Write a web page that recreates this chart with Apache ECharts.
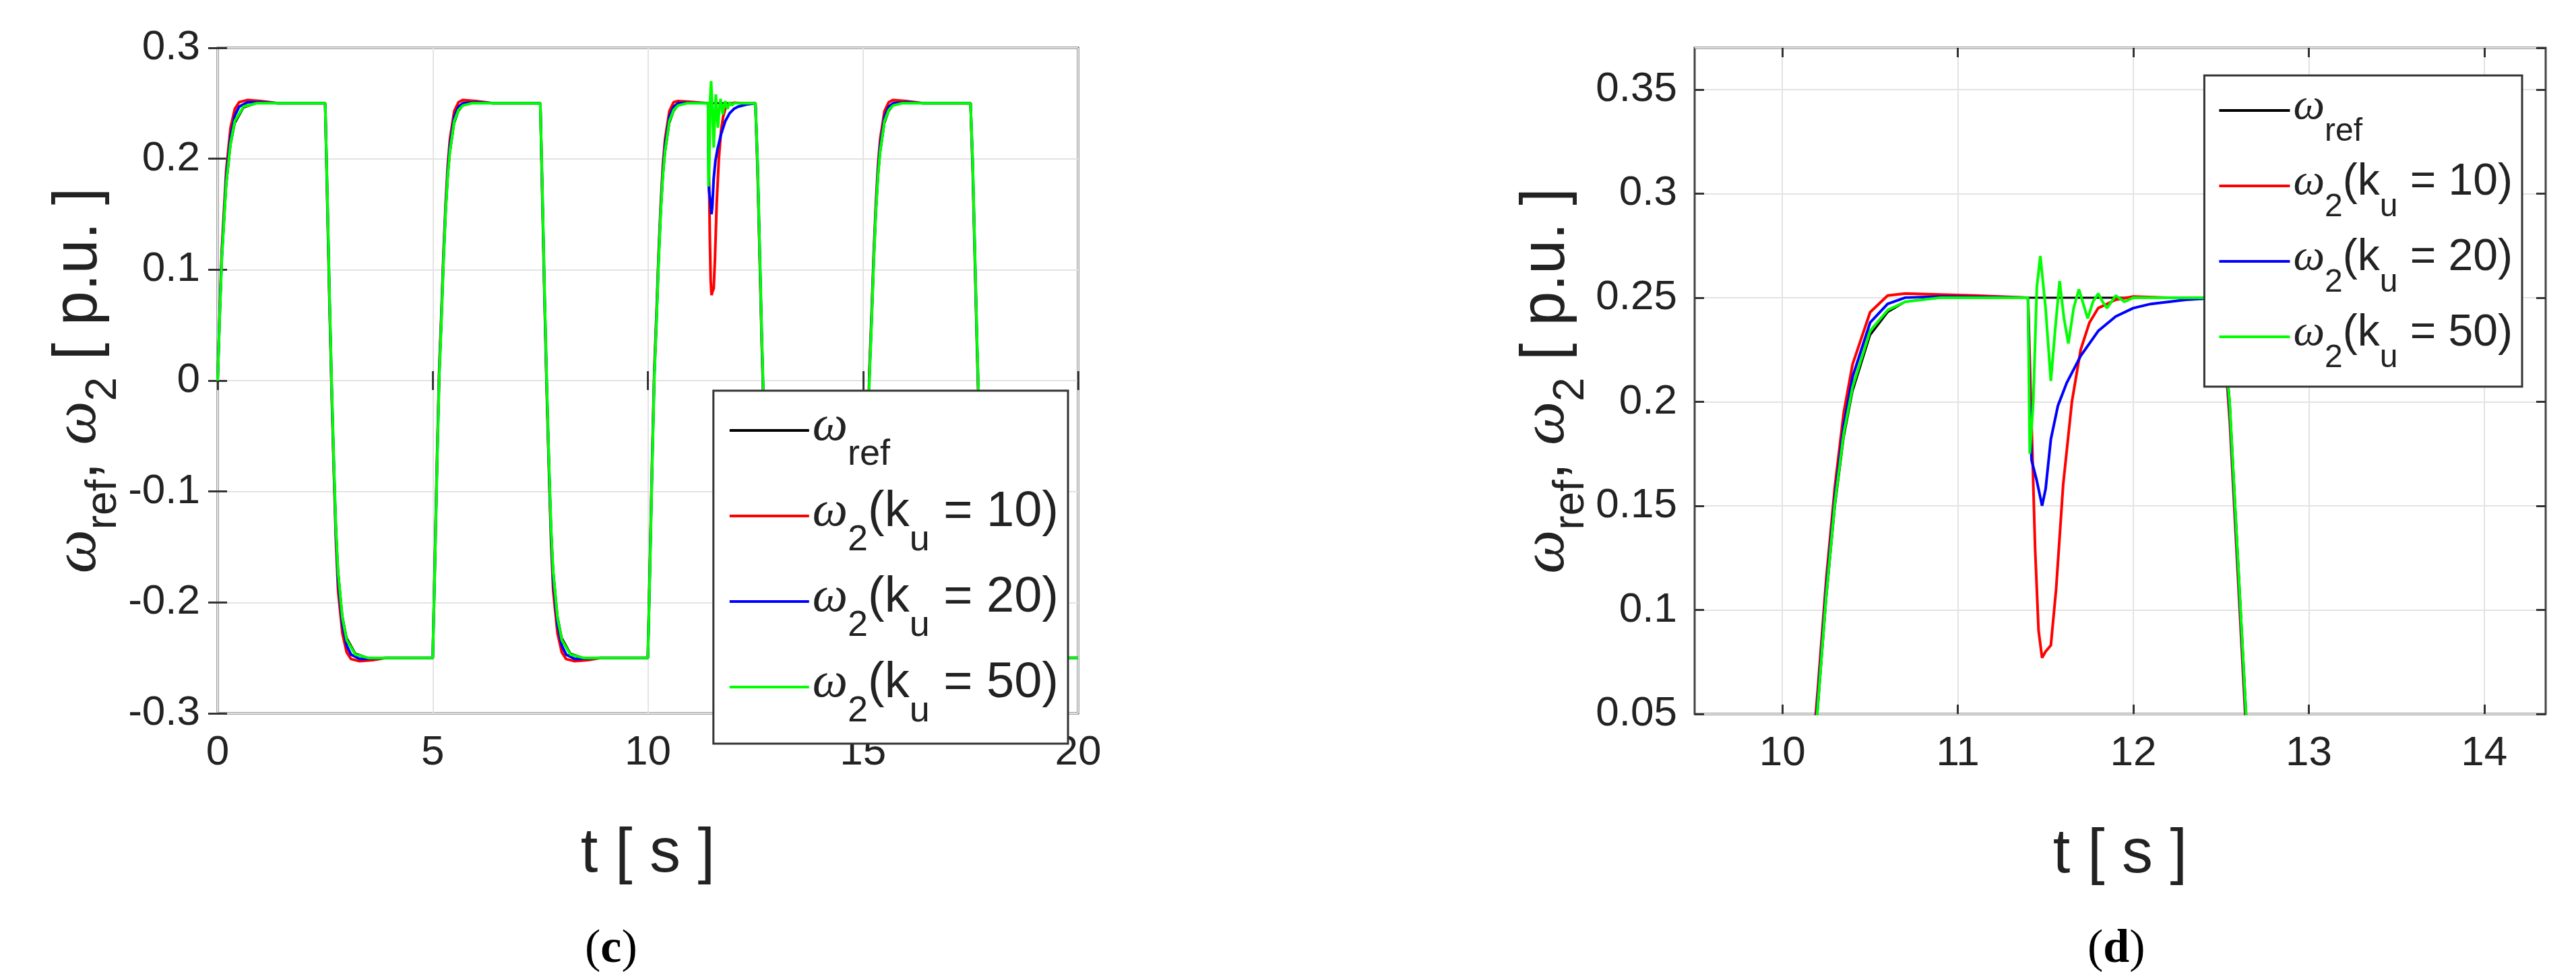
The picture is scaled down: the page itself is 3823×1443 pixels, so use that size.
<!DOCTYPE html>
<html><head><meta charset="utf-8">
<script src="https://cdn.jsdelivr.net/npm/echarts@6/dist/echarts.min.js"></script>
<style>html,body{margin:0;padding:0;background:#fff}#c{width:3823px;height:1443px}</style>
</head><body><div id="c"></div>
<script>
const seriesNames = ['ref', 'k10', 'k20', 'k50'];
const leftXTicks = [0, 5, 10, 15, 20];
const rightXTicks = [10, 11, 12, 13, 14];

const wRef = [
[0,0],[0.05,0.06],[0.1,0.11],[0.2,0.175],[0.3,0.212],[0.4,0.232],[0.6,0.246],[0.9,0.25],
[2.5,0.25],[2.55,0.17],[2.6,0.08],[2.65,0],[2.7,-0.07],[2.75,-0.13],[2.8,-0.17],[2.9,-0.212],[3.0,-0.232],[3.2,-0.246],[3.5,-0.25],
[5,-0.25],[5.05,-0.17],[5.1,-0.08],[5.15,0],[5.2,0.05],[5.25,0.105],[5.3,0.15],[5.35,0.183],[5.4,0.205],[5.5,0.232],[5.6,0.243],[5.7,0.248],[5.9,0.25],
[7.5,0.25],[7.55,0.17],[7.6,0.08],[7.65,0],[7.7,-0.07],[7.75,-0.13],[7.8,-0.17],[7.9,-0.212],[8.0,-0.232],[8.2,-0.246],[8.5,-0.25],
[10,-0.25],[10.05,-0.17],[10.1,-0.08],[10.15,0],[10.2,0.05],[10.25,0.105],[10.3,0.15],[10.35,0.183],[10.4,0.205],[10.5,0.232],[10.6,0.243],[10.7,0.248],[10.9,0.25],
[12.5,0.25],[12.55,0.2],[12.6,0.12],[12.65,0.04],[12.7,-0.03],[12.75,-0.1],[12.8,-0.15],[12.9,-0.205],[13.0,-0.23],[13.2,-0.246],[13.5,-0.25],
[15,-0.25],[15.05,-0.17],[15.1,-0.08],[15.15,0],[15.2,0.05],[15.25,0.105],[15.3,0.15],[15.35,0.183],[15.4,0.205],[15.5,0.232],[15.6,0.243],[15.7,0.248],[15.9,0.25],
[17.5,0.25],[17.55,0.2],[17.6,0.12],[17.65,0.04],[17.7,-0.03],[17.75,-0.1],[17.8,-0.15],[17.9,-0.205],[18.0,-0.23],[18.2,-0.246],[18.5,-0.25],[20,-0.25]
];
const wK10 = [
[0,0],[0.05,0.065],[0.1,0.12],[0.2,0.19],[0.3,0.228],[0.4,0.245],[0.5,0.251],[0.7,0.253],[1.0,0.252],[1.4,0.25],
[2.5,0.25],[2.55,0.16],[2.6,0.07],[2.65,-0.01],[2.7,-0.08],[2.75,-0.145],[2.8,-0.19],[2.9,-0.228],[3.0,-0.245],[3.1,-0.251],[3.3,-0.253],[3.6,-0.252],[3.9,-0.25],
[5,-0.25],[5.05,-0.16],[5.1,-0.07],[5.15,0.01],[5.2,0.06],[5.25,0.115],[5.3,0.16],[5.35,0.195],[5.4,0.218],[5.5,0.243],[5.6,0.251],[5.7,0.253],[6.0,0.252],[6.4,0.25],
[7.5,0.25],[7.55,0.16],[7.6,0.07],[7.65,-0.01],[7.7,-0.08],[7.75,-0.145],[7.8,-0.19],[7.9,-0.228],[8.0,-0.245],[8.1,-0.251],[8.3,-0.253],[8.6,-0.252],[8.9,-0.25],
[10,-0.25],[10.05,-0.16],[10.1,-0.07],[10.15,0.01],[10.2,0.06],[10.25,0.115],[10.3,0.16],[10.35,0.195],[10.4,0.218],[10.5,0.243],[10.6,0.251],[10.7,0.252],[10.9,0.2515],[11.1,0.251],[11.4,0.25],
[11.42,0.19],[11.44,0.13],[11.46,0.09],[11.48,0.077],[11.5,0.08],[11.53,0.083],[11.56,0.11],[11.6,0.16],[11.65,0.2],[11.7,0.225],[11.75,0.238],[11.8,0.245],[11.9,0.249],[12.0,0.2505],[12.2,0.25],
[12.5,0.25],[12.55,0.19],[12.6,0.11],[12.65,0.03],[12.7,-0.04],[12.75,-0.11],[12.8,-0.16],[12.9,-0.215],[13.0,-0.238],[13.1,-0.248],[13.3,-0.252],[13.6,-0.251],[13.9,-0.25],
[15,-0.25],[15.05,-0.16],[15.1,-0.07],[15.15,0.01],[15.2,0.06],[15.25,0.115],[15.3,0.16],[15.35,0.195],[15.4,0.218],[15.5,0.243],[15.6,0.251],[15.7,0.253],[16.0,0.252],[16.4,0.25],
[17.5,0.25],[17.55,0.19],[17.6,0.11],[17.65,0.03],[17.7,-0.04],[17.75,-0.11],[17.8,-0.16],[17.9,-0.215],[18.0,-0.238],[18.1,-0.248],[18.3,-0.252],[18.6,-0.251],[18.9,-0.25],[20,-0.25]
];
const wK20 = [
[0,0],[0.05,0.062],[0.1,0.115],[0.2,0.183],[0.3,0.22],[0.4,0.239],[0.5,0.247],[0.7,0.251],[1.0,0.251],[1.4,0.25],
[2.5,0.25],[2.55,0.165],[2.6,0.075],[2.65,-0.005],[2.7,-0.075],[2.75,-0.138],[2.8,-0.18],[2.9,-0.22],[3.0,-0.239],[3.1,-0.247],[3.3,-0.251],[3.9,-0.25],
[5,-0.25],[5.05,-0.165],[5.1,-0.075],[5.15,0.005],[5.2,0.055],[5.25,0.11],[5.3,0.155],[5.35,0.189],[5.4,0.212],[5.5,0.238],[5.6,0.247],[5.7,0.25],[6.0,0.251],[6.4,0.25],
[7.5,0.25],[7.55,0.165],[7.6,0.075],[7.65,-0.005],[7.7,-0.075],[7.75,-0.138],[7.8,-0.18],[7.9,-0.22],[8.0,-0.239],[8.1,-0.247],[8.3,-0.251],[8.9,-0.25],
[10,-0.25],[10.05,-0.165],[10.1,-0.075],[10.15,0.005],[10.2,0.055],[10.25,0.11],[10.3,0.155],[10.35,0.189],[10.4,0.212],[10.5,0.238],[10.6,0.247],[10.7,0.25],[10.9,0.2505],[11.4,0.25],
[11.41,0.2],[11.42,0.172],[11.45,0.162],[11.48,0.15],[11.5,0.158],[11.53,0.182],[11.57,0.198],[11.62,0.209],[11.7,0.222],[11.8,0.234],[11.9,0.241],[12.0,0.245],[12.1,0.247],[12.3,0.249],[12.5,0.25],
[12.55,0.195],[12.6,0.115],[12.65,0.035],[12.7,-0.035],[12.75,-0.105],[12.8,-0.155],[12.9,-0.21],[13.0,-0.234],[13.1,-0.245],[13.3,-0.25],[13.9,-0.25],
[15,-0.25],[15.05,-0.165],[15.1,-0.075],[15.15,0.005],[15.2,0.055],[15.25,0.11],[15.3,0.155],[15.35,0.189],[15.4,0.212],[15.5,0.238],[15.6,0.247],[15.7,0.25],[16.0,0.251],[16.4,0.25],
[17.5,0.25],[17.55,0.195],[17.6,0.115],[17.65,0.035],[17.7,-0.035],[17.75,-0.105],[17.8,-0.155],[17.9,-0.21],[18.0,-0.234],[18.1,-0.245],[18.3,-0.25],[20,-0.25]
];
const wK50 = [
[0,0],[0.05,0.06],[0.1,0.112],[0.2,0.178],[0.3,0.214],[0.4,0.234],[0.6,0.247],[0.9,0.25],
[2.5,0.25],[2.55,0.168],[2.6,0.078],[2.65,-0.002],[2.7,-0.072],[2.75,-0.133],[2.8,-0.173],[2.9,-0.214],[3.0,-0.234],[3.2,-0.247],[3.5,-0.25],
[5,-0.25],[5.05,-0.168],[5.1,-0.078],[5.15,0.002],[5.2,0.052],[5.25,0.107],[5.3,0.152],[5.35,0.185],[5.4,0.207],[5.5,0.234],[5.6,0.244],[5.7,0.248],[5.9,0.25],
[7.5,0.25],[7.55,0.168],[7.6,0.078],[7.65,-0.002],[7.7,-0.072],[7.75,-0.133],[7.8,-0.173],[7.9,-0.214],[8.0,-0.234],[8.2,-0.247],[8.5,-0.25],
[10,-0.25],[10.05,-0.168],[10.1,-0.078],[10.15,0.002],[10.2,0.052],[10.25,0.107],[10.3,0.152],[10.35,0.185],[10.4,0.207],[10.5,0.234],[10.6,0.244],[10.7,0.248],[10.9,0.25],[11.4,0.25],
[11.41,0.175],[11.43,0.2],[11.45,0.255],[11.47,0.27],[11.5,0.245],[11.53,0.21],[11.555,0.235],[11.58,0.258],[11.605,0.24],[11.63,0.228],[11.66,0.245],[11.69,0.254],[11.715,0.247],[11.74,0.24],[11.77,0.248],[11.8,0.252],[11.825,0.248],[11.85,0.245],[11.9,0.251],[11.95,0.248],[12.0,0.25],
[12.5,0.25],[12.55,0.198],[12.6,0.118],[12.65,0.038],[12.7,-0.032],[12.75,-0.102],[12.8,-0.152],[12.9,-0.207],[13.0,-0.232],[13.2,-0.247],[13.5,-0.25],
[15,-0.25],[15.05,-0.168],[15.1,-0.078],[15.15,0.002],[15.2,0.052],[15.25,0.107],[15.3,0.152],[15.35,0.185],[15.4,0.207],[15.5,0.234],[15.6,0.244],[15.7,0.248],[15.9,0.25],
[17.5,0.25],[17.55,0.198],[17.6,0.118],[17.65,0.038],[17.7,-0.032],[17.75,-0.102],[17.8,-0.152],[17.9,-0.207],[18.0,-0.232],[18.2,-0.247],[18.5,-0.25],[20,-0.25]
];

const dataSets = [wRef, wK10, wK20, wK50];
const colors = ['#000000', '#ff0000', '#0000ff', '#00ff00'];
const widths = [3, 4, 4, 4];

const FONT = 'Liberation Sans';
function richSet(main, sub, off) {
  return {
    w: {fontSize: main, fontFamily: 'Liberation Serif', fontStyle: 'italic', lineHeight: main + 10, verticalAlign: 'top', color: '#222'},
    t: {fontSize: main, fontFamily: FONT, lineHeight: main + 10, verticalAlign: 'top', color: '#222'},
    s: {fontSize: sub, fontFamily: FONT, lineHeight: sub, padding: [(main + 10) / 2 - sub / 2 + off, 0, 0, 0], verticalAlign: 'top', color: '#222'}
  };
}
const legendText = {
  ref: '{w|ω}{s|ref}',
  k10: '{w|ω}{s|2}{t|(k}{s|u}{t| = 10)}',
  k20: '{w|ω}{s|2}{t|(k}{s|u}{t| = 20)}',
  k50: '{w|ω}{s|2}{t|(k}{s|u}{t| = 50)}'
};
const fmtY = v => String(Math.round(v * 100) / 100);

const grids = [
  {left: 323, top: 71, width: 1277, height: 988},
  {left: 2515, top: 71, width: 1263, height: 989}
];
const xr = [{min: 0, max: 20, interval: 5}, {min: 9.5, max: 14.35}];
const yr = [{min: -0.3, max: 0.3, interval: 0.1}, {min: 0.05, max: 0.37, interval: 0.05}];

const xAxis = [], yAxis = [];
[0, 1].forEach(g => {
  const ticks = g === 0 ? leftXTicks : rightXTicks;
  const base = {
    type: 'value', gridIndex: g, min: xr[g].min, max: xr[g].max,
    axisLine: {show: false},
    axisTick: {inside: true, length: 14, lineStyle: {color: '#333', width: 3}},
    splitLine: {show: true, lineStyle: {color: '#e3e3e3', width: 2}}
  };
  if (g === 0) base.interval = 5;
  else {
    base.axisTick.customValues = ticks;
    base.axisLabel = {customValues: ticks};
  }
  xAxis.push(Object.assign({}, base, {
    position: 'bottom',
    axisLabel: Object.assign({fontSize: 62, fontFamily: FONT, color: '#222', margin: 28}, base.axisLabel || {}),
    name: 't [ s ]', nameLocation: 'middle', nameGap: 164,
    nameTextStyle: {fontSize: 92, fontFamily: FONT, color: '#222'}
  }));
  xAxis.push(Object.assign({}, base, {
    position: 'top', axisLabel: {show: false}, splitLine: {show: false}
  }));
  const yb = {
    type: 'value', gridIndex: g, min: yr[g].min, max: yr[g].max, interval: yr[g].interval,
    axisLine: {show: false},
    axisTick: {inside: true, length: 14, lineStyle: {color: '#333', width: 3}},
    splitLine: {show: true, lineStyle: {color: '#e3e3e3', width: 2}}
  };
  yAxis.push(Object.assign({}, yb, {
    position: 'left',
    axisLabel: {fontSize: 62, fontFamily: FONT, color: '#222', margin: 26, formatter: fmtY, showMaxLabel: g === 0},
    name: '{w|ω}{s|ref}{t|, }{w|ω}{s|2}{t| [ p.u. ]}', nameLocation: 'middle', nameGap: g === 0 ? 88 : 146,
    nameTextStyle: {rich: richSet(92, 64, 32)}
  }));
  yAxis.push(Object.assign({}, yb, {
    position: 'right', axisLabel: {show: false}, splitLine: {show: false}
  }));
});

const series = [];
[0, 1].forEach(g => {
  seriesNames.forEach((n, i) => {
    series.push({
      name: n, type: 'line', xAxisIndex: g * 2, yAxisIndex: g * 2,
      data: dataSets[i], symbol: 'none', clip: true, animation: false,
      lineStyle: {color: colors[i], width: widths[i]}, itemStyle: {color: colors[i]}
    });
  });
});

const legendData = seriesNames.map(n => ({name: n, icon: 'rect'}));
const option = {
  backgroundColor: '#ffffff',
  animation: false,
  grid: grids.map(gr => Object.assign({show: true, borderColor: '#444', borderWidth: 3, backgroundColor: 'transparent'}, gr)),
  xAxis, yAxis, series,
  legend: [
    {
      right: 2238, top: 580, orient: 'vertical', data: legendData,
      backgroundColor: '#fff', borderColor: '#333', borderWidth: 3,
      padding: [17, 14, 21, 24], itemGap: 22, itemWidth: 118, itemHeight: 4,
      selectedMode: false, formatter: n => legendText[n],
      textStyle: {rich: richSet(74, 54, 36)}
    },
    {
      right: 80, top: 112, orient: 'vertical', data: legendData,
      backgroundColor: '#fff', borderColor: '#333', borderWidth: 3,
      padding: [14, 14, 18, 22], itemGap: 18, itemWidth: 105, itemHeight: 4,
      selectedMode: false, formatter: n => legendText[n],
      textStyle: {rich: richSet(66, 48, 32)}
    }
  ],
  graphic: [
    {type: 'text', left: 868, top: 1375, style: {text: '({b|c})', font: '70px "Liberation Serif"', fill: '#000', rich: {b: {fontWeight: 'bold', fontSize: 70, fontFamily: 'Liberation Serif'}}}},
    {type: 'text', left: 3098, top: 1375, style: {text: '({b|d})', font: '70px "Liberation Serif"', fill: '#000', rich: {b: {fontWeight: 'bold', fontSize: 70, fontFamily: 'Liberation Serif'}}}}
  ]
};
const chart = echarts.init(document.getElementById('c'), null, {renderer: 'canvas'});
chart.setOption(option);
</script></body></html>
